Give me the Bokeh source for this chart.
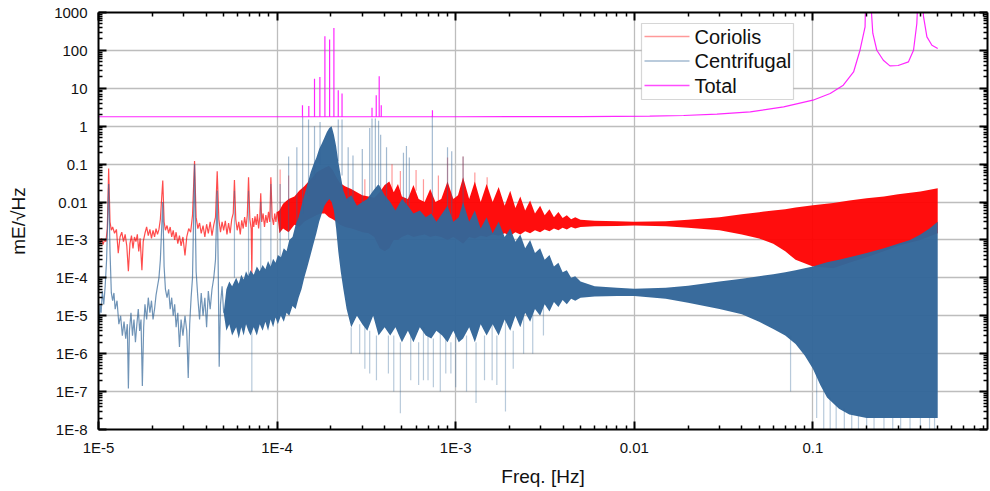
from bokeh.plotting import figure
from bokeh.models import LogAxis, FixedTicker, CustomJSTickFormatter, Range1d, BoxAnnotation, Label
from bokeh.embed import file_html
from bokeh.resources import INLINE

# ---------------- ticks ----------------
x_ticks = [1e-5, 1e-4, 1e-3, 1e-2, 1e-1]
x_tick_labels = ["1E-5", "1E-4", "1E-3", "0.01", "0.1"]
y_ticks = [1e-8, 1e-7, 1e-6, 1e-5, 1e-4, 1e-3, 1e-2, 1e-1, 1, 10, 100, 1000]
y_tick_labels = ["1E-8", "1E-7", "1E-6", "1E-5", "1E-4", "1E-3", "0.01", "0.1", "1", "10", "100", "1000"]
series_names = ["Coriolis", "Centrifugal", "Total"]

# ---------------- Coriolis (red) ----------------
cor_line_f = [1.00e-5, 1.02e-5, 1.04e-5, 1.06e-5, 1.08e-5, 1.10e-5, 1.12e-5, 1.14e-5, 1.16e-5, 1.18e-5,
              1.20e-5, 1.23e-5, 1.26e-5, 1.29e-5, 1.32e-5, 1.35e-5, 1.38e-5, 1.41e-5, 1.44e-5, 1.47e-5,
              1.50e-5, 1.53e-5, 1.56e-5, 1.59e-5, 1.62e-5, 1.65e-5, 1.68e-5, 1.71e-5, 1.75e-5, 1.78e-5,
              1.82e-5, 1.86e-5, 1.90e-5, 1.94e-5, 1.98e-5, 2.02e-5, 2.06e-5, 2.10e-5, 2.14e-5, 2.18e-5,
              2.22e-5, 2.29e-5, 2.33e-5, 2.37e-5, 2.42e-5, 2.47e-5, 2.52e-5, 2.57e-5, 2.62e-5, 2.67e-5,
              2.72e-5, 2.78e-5, 2.84e-5, 2.90e-5, 2.97e-5, 3.05e-5, 3.12e-5, 3.20e-5, 3.28e-5, 3.36e-5,
              3.45e-5, 3.52e-5, 3.60e-5, 3.68e-5, 3.76e-5, 3.85e-5, 3.94e-5, 4.03e-5, 4.12e-5, 4.22e-5,
              4.32e-5, 4.42e-5, 4.52e-5, 4.62e-5, 4.72e-5, 4.82e-5, 4.92e-5, 5.02e-5, 5.13e-5, 5.24e-5,
              5.35e-5, 5.46e-5, 5.57e-5, 5.68e-5, 5.77e-5, 5.87e-5, 5.98e-5, 6.10e-5, 6.22e-5, 6.34e-5,
              6.46e-5, 6.58e-5, 6.70e-5, 6.81e-5, 6.92e-5, 7.04e-5, 7.16e-5, 7.22e-5, 7.28e-5, 7.40e-5,
              7.52e-5, 7.64e-5, 7.76e-5, 7.88e-5, 8.00e-5, 8.10e-5, 8.20e-5, 8.35e-5, 8.50e-5, 8.65e-5,
              8.80e-5, 8.95e-5, 9.10e-5, 9.23e-5, 9.38e-5, 9.55e-5, 9.70e-5, 9.85e-5, 1.00e-4]
cor_line_v = [1.0e-3, 8.0e-4, 1.1e-3, 7.5e-4, 1.0e-3, 9.0e-4, 2.0e-3, 7.7e-2, 3.0e-3, 1.8e-3,
              2.2e-3, 1.5e-3, 1.9e-3, 4.5e-4, 1.2e-3, 1.6e-3, 9.0e-4, 1.4e-3, 7.0e-4, 1.5e-4,
              8.0e-4, 1.3e-3, 6.0e-4, 1.2e-3, 9.0e-4, 1.4e-3, 5.0e-4, 1.1e-3, 1.6e-4, 9.0e-4,
              1.5e-3, 2.2e-3, 1.3e-3, 1.9e-3, 1.1e-3, 1.8e-3, 1.2e-3, 2.0e-3, 1.4e-3, 1.9e-3,
              3.5e-3, 3.7e-2, 3.0e-3, 1.8e-3, 2.4e-3, 1.5e-3, 2.2e-3, 1.2e-3, 1.8e-3, 1.0e-3,
              1.6e-3, 8.0e-4, 1.3e-3, 7.0e-4, 1.2e-3, 3.9e-4, 1.2e-3, 2.0e-3, 1.6e-3, 4.5e-3,
              1.2e-1, 4.0e-3, 2.0e-3, 2.8e-3, 1.5e-3, 2.4e-3, 1.2e-3, 2.6e-3, 1.5e-3, 3.0e-3,
              1.3e-3, 2.5e-3, 4.0e-3, 6.5e-2, 3.5e-3, 1.6e-3, 3.0e-3, 1.8e-3, 3.2e-3, 1.4e-3,
              2.8e-3, 1.5e-3, 3.5e-3, 5.0e-3, 3.8e-2, 3.5e-3, 1.8e-3, 3.0e-3, 1.4e-3, 3.3e-3,
              2.0e-3, 4.0e-3, 2.2e-3, 4.5e-3, 4.5e-2, 3.5e-3, 2.0e-3, 1.3e-4, 3.8e-3, 2.2e-3,
              4.2e-3, 2.5e-3, 4.8e-3, 2.0e-3, 4.0e-3, 1.7e-2, 3.0e-3, 5.0e-3, 2.2e-3, 4.5e-3,
              2.8e-3, 5.5e-3, 3.0e-3, 4.5e-2, 4.0e-3, 2.5e-3, 5.0e-3, 3.0e-3, 5.5e-3]

cor_band_f = [1.00e-4, 1.03e-4, 1.08e-4, 1.16e-4, 1.25e-4, 1.33e-4, 1.42e-4, 1.50e-4, 1.58e-4, 1.66e-4, 1.75e-4,
              1.85e-4, 1.95e-4, 2.05e-4, 2.15e-4, 2.25e-4, 2.40e-4, 2.60e-4, 2.80e-4, 3.00e-4, 3.25e-4,
              3.50e-4, 3.75e-4, 4.00e-4, 4.25e-4, 4.50e-4, 4.75e-4, 5.00e-4, 5.40e-4, 5.80e-4, 6.20e-4,
              6.70e-4, 7.20e-4, 7.70e-4, 8.30e-4, 9.00e-4, 9.70e-4, 1.03e-3, 1.10e-3, 1.19e-3, 1.28e-3,
              1.38e-3, 1.49e-3, 1.61e-3, 1.74e-3, 1.88e-3, 2.02e-3, 2.16e-3, 2.30e-3, 2.45e-3, 2.61e-3,
              2.78e-3, 2.97e-3, 3.15e-3, 3.35e-3, 3.55e-3, 3.76e-3, 3.97e-3, 4.19e-3, 4.43e-3, 4.67e-3,
              5.0e-3, 6.0e-3, 8.0e-3, 1.0e-2, 1.5e-2, 2.0e-2, 3.0e-2, 4.0e-2, 5.0e-2, 6.0e-2,
              7.0e-2, 8.0e-2, 0.10, 0.13, 0.16, 0.20, 0.25, 0.30, 0.40, 0.50]
cor_band_lo = [5.5e-3, 1.5e-3, 2.0e-3, 1.6e-3, 2.5e-3, 2.2e-3, 3.0e-3, 3.5e-3, 4.0e-3, 4.5e-3, 5.0e-3,
               5.0e-3, 4.0e-3, 3.5e-3, 3.0e-3, 2.5e-3, 2.2e-3, 2.0e-3, 1.8e-3, 1.6e-3, 1.5e-3,
               1.2e-3, 6.0e-4, 5.0e-4, 6.0e-4, 1.0e-3, 1.0e-3, 1.2e-3, 1.4e-3, 1.2e-3, 1.3e-3,
               1.4e-3, 1.2e-3, 1.3e-3, 1.2e-3, 1.0e-3, 1.2e-3, 1.0e-3, 8.0e-4, 1.2e-3, 1.1e-3,
               1.3e-3, 1.2e-3, 1.4e-3, 1.3e-3, 1.5e-3, 1.3e-3, 1.6e-3, 1.4e-3, 1.7e-3, 1.5e-3,
               1.8e-3, 1.6e-3, 1.9e-3, 1.7e-3, 2.0e-3, 1.8e-3, 2.1e-3, 1.9e-3, 2.2e-3, 2.0e-3,
               2.2e-3, 2.3e-3, 2.35e-3, 2.4e-3, 2.3e-3, 2.1e-3, 1.8e-3, 1.4e-3, 1.1e-3, 8.0e-4,
               5.0e-4, 3.0e-4, 2.0e-4, 1.8e-4, 2.5e-4, 3.5e-4, 5.0e-4, 7.0e-4, 1.0e-3, 1.5e-3]
cor_band_hi = [5.5e-3, 6.0e-3, 9.0e-3, 1.2e-2, 1.4e-2, 2.0e-2, 2.6e-2, 3.5e-2, 4.5e-2, 6.0e-2, 7.0e-2,
               8.0e-2, 9.0e-2, 7.0e-2, 4.5e-2, 3.2e-2, 2.6e-2, 2.2e-2, 1.8e-2, 1.5e-2, 1.4e-2,
               1.3e-2, 1.8e-2, 2.8e-2, 3.5e-2, 1.8e-2, 3.0e-2, 1.4e-2, 1.2e-2, 2.8e-2, 1.2e-2,
               1.0e-2, 2.2e-2, 1.0e-2, 1.2e-2, 3.5e-2, 1.2e-2, 1.5e-2, 4.5e-2, 1.2e-2, 3.5e-2,
               1.0e-2, 3.0e-2, 1.0e-2, 2.5e-2, 8.0e-3, 2.0e-2, 7.0e-3, 1.4e-2, 6.0e-3, 1.1e-2,
               5.0e-3, 8.0e-3, 4.5e-3, 6.5e-3, 4.0e-3, 5.5e-3, 3.8e-3, 4.5e-3, 3.5e-3, 4.0e-3,
               3.4e-3, 3.2e-3, 3.1e-3, 3.0e-3, 3.1e-3, 3.4e-3, 4.0e-3, 4.8e-3, 5.4e-3, 6.0e-3,
               6.5e-3, 7.2e-3, 8.2e-3, 9.5e-3, 1.1e-2, 1.25e-2, 1.4e-2, 1.6e-2, 1.9e-2, 2.3e-2]

cor_spk_f = [1.04e-4, 1.16e-4, 3.1e-4, 4.40e-4, 4.90e-4, 6.00e-4, 6.6e-4, 8.0e-4, 9.00e-4, 1.10e-3, 1.28e-3, 1.5e-3]
cor_spk_base = [5e-3, 8e-3, 1.4e-2, 2e-2, 1.5e-2, 2e-2, 1e-2, 1e-2, 2e-2, 3e-2, 2e-2, 2e-2]
cor_spk_top = [7.2e-2, 5e-2, 4e-2, 1.0e-1, 6.6e-2, 7e-2, 4e-2, 5e-2, 1.5e-1, 1.6e-1, 6e-2, 4.5e-2]

# ---------------- Centrifugal (blue) ----------------
cen_line_f = [1.00e-5, 1.01e-5, 1.02e-5, 1.035e-5, 1.05e-5, 1.07e-5, 1.09e-5, 1.11e-5, 1.14e-5, 1.16e-5,
              1.18e-5, 1.20e-5, 1.22e-5, 1.24e-5, 1.27e-5, 1.30e-5, 1.33e-5, 1.36e-5, 1.39e-5, 1.42e-5,
              1.45e-5, 1.47e-5, 1.49e-5, 1.52e-5, 1.55e-5, 1.58e-5, 1.61e-5, 1.64e-5, 1.67e-5, 1.70e-5,
              1.73e-5, 1.76e-5, 1.79e-5, 1.82e-5, 1.86e-5, 1.90e-5, 1.94e-5, 1.98e-5, 2.02e-5, 2.06e-5,
              2.10e-5, 2.14e-5, 2.18e-5, 2.22e-5, 2.29e-5, 2.33e-5, 2.37e-5, 2.42e-5, 2.47e-5, 2.52e-5,
              2.57e-5, 2.62e-5, 2.67e-5, 2.72e-5, 2.78e-5, 2.84e-5, 2.90e-5, 2.97e-5, 3.05e-5, 3.12e-5,
              3.18e-5, 3.24e-5, 3.30e-5, 3.36e-5, 3.45e-5, 3.52e-5, 3.60e-5, 3.68e-5, 3.76e-5, 3.85e-5,
              3.94e-5, 4.03e-5, 4.12e-5, 4.22e-5, 4.32e-5, 4.42e-5, 4.52e-5, 4.62e-5, 4.68e-5, 4.74e-5,
              4.82e-5, 4.92e-5, 5.02e-5]
cen_line_v = [1.0e-5, 6.0e-6, 2.0e-5, 1.2e-5, 4.5e-5, 2.0e-5, 6.0e-5, 3.0e-4, 3.0e-2, 5.0e-4,
              4.0e-5, 2.5e-5, 4.0e-5, 1.5e-5, 2.5e-5, 6.0e-6, 1.0e-5, 3.0e-6, 7.0e-6, 2.5e-6,
              6.0e-6, 1.2e-7, 4.0e-6, 1.2e-5, 3.0e-6, 8.0e-6, 2.0e-6, 6.0e-6, 1.5e-5, 4.0e-6,
              8.0e-6, 1.4e-7, 5.0e-6, 2.0e-5, 8.0e-6, 3.0e-5, 1.2e-5, 2.5e-5, 8.0e-6, 1.5e-5,
              3.5e-5, 6.0e-5, 1.0e-4, 3.0e-4, 1.0e-2, 2.0e-4, 5.0e-5, 3.0e-5, 5.0e-5, 1.5e-5,
              3.0e-5, 1.0e-5, 2.0e-5, 5.0e-6, 1.2e-5, 1.5e-6, 8.0e-6, 3.0e-6, 1.0e-5, 4.0e-6,
              2.3e-7, 6.0e-6, 3.0e-5, 1.0e-4, 1.0e-1, 1.5e-4, 3.0e-5, 8.0e-6, 4.0e-5, 1.0e-5,
              3.0e-5, 5.0e-6, 4.5e-5, 1.5e-5, 5.0e-5, 1.0e-4, 3.0e-4, 2.0e-2, 2.0e-4, 4.5e-7,
              2.0e-5, 6.0e-5, 1.2e-5]

cen_band_f = [5.02e-5, 5.2e-5, 5.4e-5, 5.6e-5, 5.9e-5, 6.1e-5, 6.3e-5, 6.5e-5, 6.7e-5, 6.9e-5,
              7.1e-5, 7.4e-5, 7.7e-5, 8.0e-5, 8.3e-5, 8.6e-5, 8.9e-5, 9.2e-5, 9.5e-5, 9.8e-5,
              1.01e-4, 1.05e-4, 1.09e-4, 1.13e-4, 1.17e-4, 1.22e-4, 1.27e-4, 1.32e-4, 1.37e-4, 1.42e-4,
              1.48e-4, 1.54e-4, 1.60e-4, 1.66e-4, 1.72e-4, 1.78e-4, 1.84e-4, 1.90e-4, 1.96e-4, 2.02e-4,
              2.08e-4, 2.14e-4, 2.20e-4, 2.27e-4, 2.35e-4, 2.45e-4, 2.6e-4,
              2.8e-4, 3.0e-4, 3.2e-4, 3.45e-4, 3.7e-4, 4.0e-4, 4.3e-4, 4.6e-4, 5.0e-4, 5.4e-4,
              5.8e-4, 6.3e-4, 6.8e-4, 7.3e-4, 7.8e-4, 8.4e-4, 9.0e-4, 9.7e-4, 1.04e-3, 1.1e-3,
              1.19e-3, 1.28e-3, 1.38e-3, 1.49e-3, 1.61e-3, 1.74e-3, 1.88e-3, 2.02e-3, 2.16e-3, 2.30e-3,
              2.45e-3, 2.61e-3, 2.78e-3, 2.97e-3, 3.15e-3, 3.35e-3, 3.55e-3, 3.76e-3, 3.97e-3, 4.19e-3,
              4.43e-3, 4.67e-3, 5.0e-3, 6.0e-3, 8.0e-3, 1.0e-2, 1.5e-2, 2.0e-2, 3.0e-2, 4.0e-2,
              5.0e-2, 6.0e-2, 7.0e-2, 8.0e-2, 9.0e-2, 0.10, 0.11, 0.12, 0.14, 0.16,
              0.20, 0.25, 0.30, 0.35, 0.40, 0.45, 0.50]
cen_band_lo = [1.2e-5, 4e-6, 6e-6, 3e-6, 5e-6, 2.5e-6, 5e-6, 3e-6, 6e-6, 4e-6,
               3e-6, 5e-6, 3e-6, 6e-6, 4e-6, 7e-6, 4e-6, 8e-6, 5e-6, 9e-6,
               6e-6, 1e-5, 7e-6, 1.2e-5, 1e-5, 1.8e-5, 1.5e-5, 3e-5, 5e-5, 1e-4,
               2e-4, 4e-4, 8e-4, 1.5e-3, 3e-3, 5e-3, 8e-3, 1e-2, 1.2e-2, 1e-2,
               6e-3, 2e-3, 5e-4, 1.5e-4, 5e-5, 1.5e-5, 5e-6,
               1e-5, 6e-6, 4e-6, 1e-5, 3e-6, 5e-6, 3e-6, 5e-6, 2e-6, 4e-6,
               2e-6, 5e-6, 3e-6, 2.5e-6, 4e-6, 3e-6, 2e-6, 4e-6, 2e-6, 2.5e-6,
               5e-6, 2e-6, 6e-6, 3e-6, 6e-6, 3e-6, 8e-6, 4e-6, 1e-5, 5e-6,
               1.2e-5, 7e-6, 1.5e-5, 1e-5, 2e-5, 1.3e-5, 2.3e-5, 1.7e-5, 2.6e-5, 2e-5,
               2.8e-5, 2.5e-5, 3e-5, 3.2e-5, 3.3e-5, 3.3e-5, 2.8e-5, 2.2e-5, 1.5e-5, 1.1e-5,
               7e-6, 4.5e-6, 3e-6, 1.8e-6, 9e-7, 4e-7, 1.5e-7, 7e-8, 3.5e-8, 2.5e-8,
               2e-8, 2e-8, 2e-8, 2e-8, 2e-8, 2e-8, 2e-8]
cen_band_hi = [1.2e-5, 5e-5, 8e-5, 6e-5, 1e-4, 7e-5, 1.2e-4, 9e-5, 1.5e-4, 1.1e-4,
               1.6e-4, 1.2e-4, 2e-4, 1.5e-4, 2.2e-4, 1.7e-4, 2.8e-4, 2e-4, 3.2e-4, 2.5e-4,
               4e-4, 3.5e-4, 6e-4, 5e-4, 1e-3, 1.2e-3, 2.5e-3, 4e-3, 8e-3, 1.5e-2,
               3e-2, 6e-2, 0.1, 0.15, 0.25, 0.35, 0.5, 0.7, 0.9, 1.0,
               0.6, 0.3, 0.12, 0.05, 0.02, 0.012, 1.5e-2,
               8e-3, 1e-2, 1.2e-2, 2e-2, 3e-2, 1.5e-2, 1e-2, 6e-3, 1.2e-2, 8e-3,
               5e-3, 6e-3, 4e-3, 5e-3, 3e-3, 5e-3, 8e-3, 3e-3, 4e-3, 1e-2,
               3e-3, 6e-3, 2e-3, 4e-3, 1.5e-3, 3e-3, 1.2e-3, 2e-3, 9e-4, 1.4e-3,
               6e-4, 1e-3, 4.5e-4, 6e-4, 3e-4, 4e-4, 2e-4, 2.5e-4, 1.4e-4, 1.6e-4,
               1e-4, 1.1e-4, 8e-5, 6e-5, 5.5e-5, 5.2e-5, 5.5e-5, 6.2e-5, 8e-5, 9.5e-5,
               1.1e-4, 1.25e-4, 1.4e-4, 1.6e-4, 1.8e-4, 2e-4, 2.3e-4, 2.6e-4, 3e-4, 3.5e-4,
               4.5e-4, 6e-4, 8e-4, 1e-3, 1.4e-3, 2e-3, 3e-3]

cen_spk_f = [5.77e-5, 6.92e-5, 8.1e-5, 9.23e-5, 1.04e-4, 1.16e-4, 1.29e-4, 1.39e-4, 1.50e-4, 1.62e-4,
             1.74e-4, 2.20e-4, 2.31e-4, 2.50e-4, 2.66e-4, 3.00e-4, 3.30e-4, 3.40e-4, 3.55e-4, 3.70e-4,
             3.80e-4, 4.10e-4, 5.10e-4, 5.30e-4, 5.50e-4, 7.40e-4, 9.00e-4, 9.50e-4, 1.10e-3]
cen_spk_base = [1e-4, 1.1e-4, 1.5e-4, 2e-4, 3.5e-4, 1e-3, 2e-3, 5e-3, 1.5e-2, 4e-2,
                0.1, 0.12, 0.05, 1e-2, 1e-2, 1e-2, 1.2e-2, 1.5e-2, 2e-2, 3e-2,
                2e-2, 1e-2, 1e-2, 8e-3, 8e-3, 5e-3, 5e-3, 3e-3, 5e-3]
cen_spk_top = [2e-2, 2e-2, 1e-2, 3e-2, 3e-2, 0.16, 0.28, 1.75, 1.5, 1.0,
               1.3, 1.5, 1.5, 0.28, 0.17, 0.25, 0.9, 1.6, 1.6, 1.4,
               0.6, 0.28, 0.2, 0.3, 0.15, 1.9, 0.28, 0.22, 0.16]

cen_dip_f = [7.22e-5, 2.6e-4, 2.9e-4, 3.1e-4, 3.3e-4, 3.6e-4, 4.2e-4, 4.5e-4, 4.9e-4, 5.6e-4,
             6.2e-4, 6.6e-4, 7.0e-4, 7.5e-4, 8.2e-4, 8.8e-4, 9.4e-4, 1.0e-3, 1.15e-3, 1.3e-3,
             1.45e-3, 1.6e-3, 1.7e-3, 1.9e-3, 2.1e-3, 2.4e-3, 2.7e-3, 3.1e-3, 0.075, 0.105,
             0.115, 0.125, 0.135, 0.15, 0.165, 0.18, 0.20, 0.22, 0.25, 0.28,
             0.31, 0.35, 0.40, 0.45, 0.48]
cen_dip_top = [4e-6, 5e-6, 6e-6, 6e-6, 4e-6, 3e-6, 3e-6, 3e-6, 2e-6, 4e-6,
               2e-6, 5e-6, 3e-6, 2.5e-6, 4e-6, 3e-6, 2e-6, 4e-6, 3e-6, 2e-6,
               3e-6, 6e-6, 3e-6, 8e-6, 4e-6, 1.2e-5, 1.5e-5, 2e-5, 3e-6, 3e-7,
               1.5e-7, 7e-8, 5e-8, 3.5e-8, 2.5e-8, 2.5e-8, 2e-8, 2e-8, 2e-8, 2e-8,
               2e-8, 2e-8, 2e-8, 2e-8, 2e-8]
cen_dip_bot = [1e-7, 1e-6, 1e-6, 4e-7, 3e-7, 2e-7, 3e-7, 1e-7, 2.7e-8, 2e-7,
               1.5e-7, 2e-7, 2e-7, 1.3e-7, 1e-7, 3e-7, 3e-7, 1.3e-7, 1e-7, 5e-8,
               2e-7, 2e-7, 1.5e-7, 3e-8, 4e-7, 1e-6, 1e-6, 3e-6, 1e-7, 2e-8,
               1e-8, 1e-8, 1e-8, 1e-8, 1e-8, 1e-8, 1e-8, 1e-8, 1e-8, 1e-8,
               1e-8, 1e-8, 1e-8, 1e-8, 1e-8]

# ---------------- Total (magenta) ----------------
tot_f = [1e-5, 1e-4, 1e-3, 5e-3, 1.22e-2, 1.89e-2, 2.9e-2, 4.46e-2, 6.86e-2, 0.10,
         0.125, 0.148, 0.169, 0.1836, 0.196, 0.200, 0.2165, 0.228, 0.248, 0.27,
         0.30, 0.343, 0.366, 0.382, 0.400, 0.416, 0.435, 0.464, 0.50]
tot_v = [1.78, 1.78, 1.78, 1.79, 1.84, 1.92, 2.08, 2.39, 3.24, 4.86,
         7.3, 12.1, 27.0, 101.0, 417.0, 1.0e5, 284.0, 101.0, 55.0, 39.0,
         40.0, 50.0, 101.0, 513.0, 1.0e5, 800.0, 227.0, 137.0, 112.0]
tot_spk_f = [1.387e-4, 1.505e-4, 1.62e-4, 1.736e-4, 1.852e-4, 1.968e-4, 2.08e-4, 2.20e-4, 2.31e-4,
             3.40e-4, 3.59e-4, 3.73e-4, 3.83e-4, 7.41e-4]
tot_spk_v = [3.6, 3.4, 18.0, 20.0, 237.0, 194.0, 393.0, 8.9, 7.3,
             3.05, 6.6, 20.9, 3.6, 2.65]
tot_base = 1.78

RED = "#ff0000"
BLUE = "#336699"
MAG = "#ff00ff"
FONT = "Liberation Sans"

p = figure(x_axis_type="log", y_axis_type="log",
           x_range=Range1d(1e-5, 0.950), y_range=Range1d(1e-8, 1e3),
           frame_width=889, frame_height=417,
           min_border_left=98, min_border_top=12, min_border_right=2, min_border_bottom=54,
           output_backend="svg", toolbar_location=None)
p.outline_line_color = None
p.background_fill_color = "white"

x_minor = [k * 10.0 ** e for e in range(-5, 0) for k in range(2, 10)]
y_minor = [k * 10.0 ** e for e in range(-8, 3) for k in range(2, 10)]

JS = """
let b = 0, bd = 1e9;
for (let i = 0; i < tv.length; i++) { const d = Math.abs(Math.log10(tick) - Math.log10(tv[i])); if (d < bd) { bd = d; b = i; } }
return tl[b];
"""
fmt_x = CustomJSTickFormatter(args=dict(tv=x_ticks, tl=x_tick_labels), code=JS)
fmt_y = CustomJSTickFormatter(args=dict(tv=y_ticks, tl=y_tick_labels), code=JS)
fmt_blank = CustomJSTickFormatter(code="return ' ';")

def style_axis(ax, labels=True):
    ax.axis_line_color = "black"
    ax.axis_line_width = 2
    ax.major_tick_in = 8
    ax.major_tick_out = 0
    ax.major_tick_line_width = 2
    ax.major_tick_line_color = "black"
    ax.minor_tick_in = 4
    ax.minor_tick_out = 0
    ax.minor_tick_line_width = 1.5
    ax.minor_tick_line_color = "black"
    if labels:
        ax.major_label_text_font = FONT
        ax.major_label_text_font_size = "15px"
        ax.major_label_text_color = "#111111"
        ax.axis_label_text_font = FONT
        ax.axis_label_text_font_size = "19px"
        ax.axis_label_text_font_style = "normal"
        ax.axis_label_text_color = "#111111"
    else:
        ax.formatter = fmt_blank
        ax.major_label_text_font_size = "2px"
        ax.major_label_text_alpha = 0
        ax.major_label_standoff = 0

xt = FixedTicker(ticks=x_ticks, minor_ticks=x_minor)
yt = FixedTicker(ticks=y_ticks, minor_ticks=y_minor)

xa = p.xaxis[0]
xa.ticker = xt
xa.formatter = fmt_x
xa.axis_label = "Freq. [Hz]"
style_axis(xa)
xa.major_label_standoff = 9
xa.axis_label_standoff = 7

ya = p.yaxis[0]
ya.ticker = yt
ya.formatter = fmt_y
ya.axis_label = "mE/√Hz"
style_axis(ya)
ya.major_label_standoff = 11
ya.axis_label_standoff = 22

top_ax = LogAxis(ticker=FixedTicker(ticks=x_ticks, minor_ticks=x_minor))
style_axis(top_ax, labels=False)
p.add_layout(top_ax, "above")
right_ax = LogAxis(ticker=FixedTicker(ticks=y_ticks, minor_ticks=y_minor))
style_axis(right_ax, labels=False)
p.add_layout(right_ax, "right")

p.xgrid.ticker = xt
p.ygrid.ticker = yt
for g in (p.xgrid[0], p.ygrid[0]):
    g.grid_line_color = "#bdbdbd"
    g.grid_line_width = 1.3

# Coriolis
p.varea(x=cor_band_f, y1=cor_band_lo, y2=cor_band_hi, fill_color=RED, fill_alpha=0.95)
p.line(cor_line_f, cor_line_v, line_color=RED, line_width=1.2, line_alpha=0.7)
p.segment(x0=cor_spk_f, y0=cor_spk_base, x1=cor_spk_f, y1=cor_spk_top,
          line_color=RED, line_width=1.2, line_alpha=0.4)

# Centrifugal
p.varea(x=cen_band_f, y1=cen_band_lo, y2=cen_band_hi, fill_color=BLUE, fill_alpha=0.97)
p.line(cen_line_f, cen_line_v, line_color=BLUE, line_width=1.2, line_alpha=0.7)
p.segment(x0=cen_spk_f, y0=cen_spk_base, x1=cen_spk_f, y1=cen_spk_top,
          line_color=BLUE, line_width=1.2, line_alpha=0.45)
p.segment(x0=cen_dip_f, y0=cen_dip_top, x1=cen_dip_f, y1=cen_dip_bot,
          line_color=BLUE, line_width=1.2, line_alpha=0.35)

# Total
p.line(tot_f, tot_v, line_color=MAG, line_width=1.2, line_alpha=0.85)
p.segment(x0=tot_spk_f, y0=[tot_base] * len(tot_spk_f), x1=tot_spk_f, y1=tot_spk_v,
          line_color=MAG, line_width=1.2, line_alpha=0.85)

# ---------------- legend (drawn as annotations, screen units from frame bottom-left) ----------------
leg_left, leg_right, leg_bottom, leg_top = 543, 695, 330, 406
p.add_layout(BoxAnnotation(left=leg_left, right=leg_right, bottom=leg_bottom, top=leg_top,
                           left_units="screen", right_units="screen", bottom_units="screen", top_units="screen",
                           fill_color="white", fill_alpha=1.0, line_color="#777777", line_width=1.2,
                           level="annotation"))
leg_colors = [RED, BLUE, MAG]
leg_alphas = [0.4, 0.45, 0.7]
row_centers = [393, 368.5, 344]
for name, col, al, yc in zip(series_names, leg_colors, leg_alphas, row_centers):
    p.add_layout(BoxAnnotation(left=leg_left + 3, right=leg_left + 48, bottom=yc - 0.8, top=yc + 0.8,
                               left_units="screen", right_units="screen", bottom_units="screen", top_units="screen",
                               fill_color=col, fill_alpha=al, line_color=None, level="annotation"))
    p.add_layout(Label(x=leg_left + 53, y=yc, x_units="screen", y_units="screen", text=name,
                       text_font=FONT, text_font_size="20px", text_color="#111111",
                       text_baseline="middle", text_align="left", level="annotation"))

open("out.html", "w").write(file_html(p, INLINE))
